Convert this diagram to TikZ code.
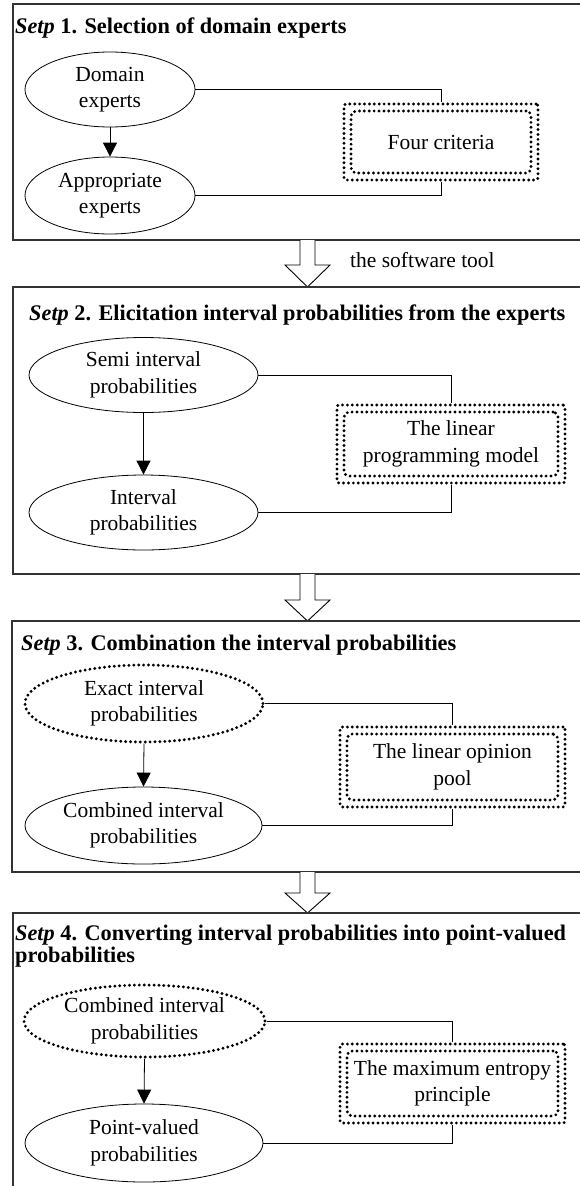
\documentclass[tikz,border=0pt]{standalone}
\usepackage{fontspec}
\setmainfont{Liberation Serif}
\usetikzlibrary{shapes.geometric,arrows.meta}
\newcommand\bodyf{\fontsize{21.5}{26.5}\selectfont}
\newcommand\titlef{\fontsize{22.3}{22}\selectfont\bfseries}
\begin{document}
\begin{tikzpicture}[x=1pt,y=-1pt,
  panel/.style={draw=black!80, line width=1.1pt, rectangle, anchor=north west, inner sep=0pt, outer sep=0pt},
  ttl/.style={anchor=base west, inner sep=0pt, font=\titlef, align=left},
  ell/.style={ellipse, draw, line width=0.8pt, inner sep=0pt, align=center, font=\bodyf},
  dots/.style={line width=3.2pt, dash pattern=on 0pt off 4.9pt, line cap=round},
  dell/.style={ell, dots},
  obox/.style={rectangle, draw, dots, rounded corners=2pt, inner sep=0pt},
  ibox/.style={rectangle, draw, dots, rounded corners=5pt, inner sep=0pt, align=center, font=\bodyf},
  conn/.style={line width=0.8pt},
  arr/.style={line width=0.8pt, -{Triangle[length=14pt,width=14pt]}},
  hollow/.style={draw, fill=white, line width=0.9pt, line join=miter}
]
\useasboundingbox (0,0) rectangle (580,1186);
\clip (0,0) rectangle (580,1186);

% ---------- Panel 1
\node[panel, minimum width=587pt, minimum height=236pt] (p1) at (13,4) {};
\node[ttl] (t1) at (15,33) {\textit{Setp} 1. Selection of domain experts};
\node[ell, minimum width=170pt, minimum height=75pt] (e1a) at (110,89.5) {Domain\\experts};
\node[ell, minimum width=170pt, minimum height=77pt] (e1b) at (110,195.5) {Appropriate\\experts};
\node[obox, minimum width=194pt, minimum height=76pt] (b1) at (441,142) {};
\node[ibox, minimum width=180pt, minimum height=62pt] (b1i) at (441,142) {Four criteria};
\draw[arr] (e1a.south) -- (e1b.north);
\draw[conn] (e1a.east) -| (b1.north);
\draw[conn] (b1.south) |- (e1b.east);

% ---------- arrow 1
\draw[hollow] (300,240) -- (300,265) -- (285,265) -- (307.5,287) -- (330,265) -- (315,265) -- (315,240);
\node[anchor=base west, inner sep=0pt, font=\bodyf] (sw) at (350,267) {the software tool};

% ---------- Panel 2
\node[panel, minimum width=587pt, minimum height=287pt] (p2) at (13,287) {};
\node[ttl] (t2) at (29,320) {\textit{Setp} 2. Elicitation interval probabilities from the experts};
\node[ell, minimum width=229pt, minimum height=75pt] (e2a) at (143.5,375) {Semi interval\\probabilities};
\node[ell, minimum width=229pt, minimum height=75pt] (e2b) at (143.5,512.5) {Interval\\probabilities};
\node[obox, minimum width=228pt, minimum height=78pt] (b2) at (451,444) {};
\node[ibox, minimum width=214pt, minimum height=64pt] (b2i) at (451,444) {The linear\\programming model};
\draw[arr] (e2a.south) -- (e2b.north);
\draw[conn] (e2a.east) -| (b2.north);
\draw[conn] (b2.south) |- (e2b.east);

% ---------- arrow 2
\draw[hollow] (300,574) -- (300,600) -- (285,600) -- (307.5,621) -- (330,600) -- (315,600) -- (315,574);

% ---------- Panel 3
\node[panel, minimum width=588pt, minimum height=251pt] (p3) at (12,621) {};
\node[ttl] (t3) at (21,650) {\textit{Setp} 3. Combination the interval probabilities};
\node[dell, minimum width=238pt, minimum height=77pt] (e3a) at (144,703.5) {Exact interval\\probabilities};
\node[ell, minimum width=237pt, minimum height=77pt] (e3b) at (143.5,825.5) {Combined interval\\probabilities};
\node[obox, minimum width=225pt, minimum height=80pt] (b3) at (452.5,767) {};
\node[ibox, minimum width=211pt, minimum height=66pt] (b3i) at (452.5,767) {The linear opinion\\pool};
\draw[arr] (e3a.south) -- (e3b.north);
\draw[conn] (e3a.east) -| (b3.north);
\draw[conn] (b3.south) |- (e3b.east);

% ---------- arrow 3
\draw[hollow] (300,872) -- (300,893) -- (285,893) -- (307.5,913) -- (330,893) -- (315,893) -- (315,872);

% ---------- Panel 4
\node[panel, minimum width=587pt, minimum height=290pt] (p4) at (13,913) {};
\node[ttl] (t4) at (15,962) {\textit{Setp} 4. Converting interval probabilities into point-valued\\probabilities};
\node[dell, minimum width=241pt, minimum height=72pt] (e4a) at (144.5,1021) {Combined interval\\probabilities};
\node[ell, minimum width=238pt, minimum height=78pt] (e4b) at (144,1143) {Point-valued\\probabilities};
\node[obox, minimum width=225pt, minimum height=79pt] (b4) at (452.5,1083.5) {};
\node[ibox, minimum width=211pt, minimum height=65pt] (b4i) at (452.5,1083.5) {The maximum entropy\\principle};
\draw[arr] (e4a.south) -- (e4b.north);
\draw[conn] (e4a.east) -| (b4.north);
\draw[conn] (b4.south) |- (e4b.east);
\end{tikzpicture}
\end{document}
